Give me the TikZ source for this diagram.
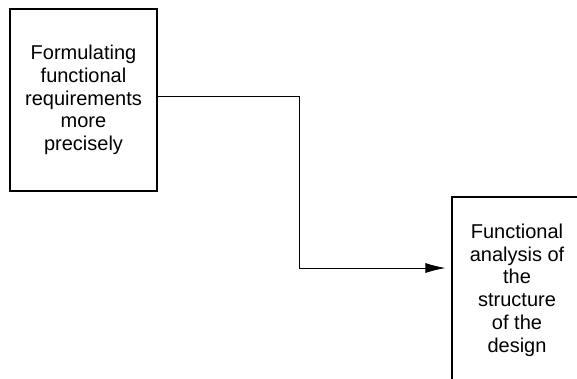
\documentclass[tikz,border=0pt]{standalone}
\usepackage{fontspec}
\setmainfont{Liberation Sans}
\usetikzlibrary{arrows.meta}
\tikzset{
  stage/.style={draw,line width=1.2pt,align=center,inner sep=0pt,
    font=\fontsize{20}{22.75}\selectfont},
  flow/.style={line width=0.8pt,-{Latex[length=20pt,width=10pt]}}
}
\begin{document}
\begin{tikzpicture}[x=1pt,y=-1pt]
\useasboundingbox (0,0) rectangle (577,378);
\clip (0,0) rectangle (577,378);
\node[stage,minimum width=147pt,minimum height=182pt] (formulate) at (83.5,100)
  {Formulating\\functional\\requirements\\more\\precisely};
\node[stage,minimum width=130pt,minimum height=186pt] (analysis) at (517,290)
  {Functional\\analysis of\\the\\structure\\of the\\design};
\coordinate (bend) at (299,268);
\draw[flow,shorten >=6pt] ([yshift=4pt]formulate.east) -| (bend) -- ([yshift=22pt]analysis.west);
\end{tikzpicture}
\end{document}
